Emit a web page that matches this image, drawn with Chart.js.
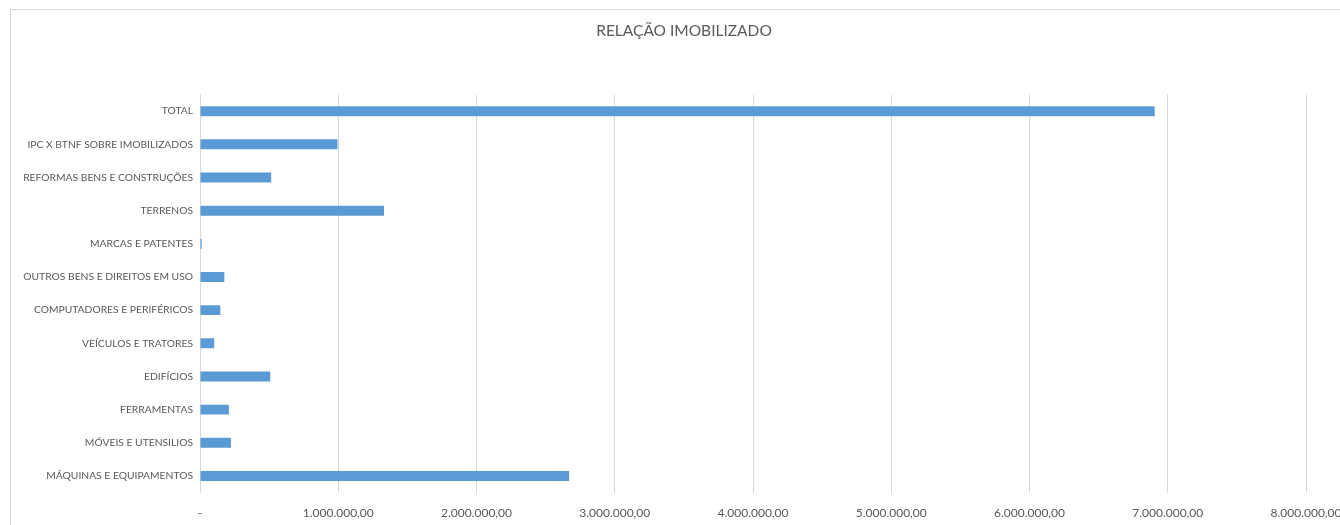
<!DOCTYPE html>
<html>
<head>
<meta charset="utf-8">
<script src="https://cdn.jsdelivr.net/npm/chart.js@4"></script>
<style>
  html, body { margin: 0; padding: 0; background: #ffffff; overflow: hidden; }
  body { width: 1340px; height: 525px; position: relative; }
  #box { position: absolute; left: 10px; top: 9px; width: 1348px; height: 530px;
         border: 1px solid #d9d9d9; box-sizing: border-box; background: #fff; }
  #wrap { position: absolute; left: 0; top: 0; width: 1346px; height: 516px; }
</style>
</head>
<body>
<div id="box"><div id="wrap"><canvas id="c"></canvas></div></div>
<script>
const titleText = 'RELAÇÃO IMOBILIZADO';
const categories = [
  'TOTAL',
  'IPC X BTNF SOBRE IMOBILIZADOS',
  'REFORMAS BENS E CONSTRUÇÕES',
  'TERRENOS',
  'MARCAS E PATENTES',
  'OUTROS BENS E DIREITOS EM USO',
  'COMPUTADORES E PERIFÉRICOS',
  'VEÍCULOS E TRATORES',
  'EDIFÍCIOS',
  'FERRAMENTAS',
  'MÓVEIS E UTENSILIOS',
  'MÁQUINAS E EQUIPAMENTOS'
];
const values = [
  6906000,
  995000,
  515000,
  1331000,
  12000,
  176000,
  147000,
  103000,
  508000,
  209000,
  224000,
  2670000
];
const axisMin = 0;
const axisMax = 8000000;
const axisStep = 1000000;

function fmtBR(v) {
  if (v === 0) return '-';
  const parts = Math.round(v).toString().replace(/\B(?=(\d{3})+(?!\d))/g, '.');
  return parts + ',00';
}

Chart.defaults.font.family = 'Lato, "Open Sans", sans-serif';
Chart.defaults.color = '#595959';

new Chart(document.getElementById('c'), {
  type: 'bar',
  data: {
    labels: categories,
    datasets: [{
      data: values,
      backgroundColor: '#5B9BD5',
      borderWidth: 0,
      barPercentage: 0.3,
      categoryPercentage: 1.0
    }]
  },
  options: {
    indexAxis: 'y',
    responsive: true,
    maintainAspectRatio: false,
    animation: false,
    layout: { padding: 0 },
    plugins: {
      legend: { display: false },
      tooltip: { enabled: false },
      title: {
        display: true,
        text: titleText,
        color: '#595959',
        font: { size: 15.5, weight: 'normal' },
        padding: { top: 12, bottom: 54 }
      }
    },
    scales: {
      x: {
        min: axisMin,
        max: axisMax,
        ticks: {
          stepSize: axisStep,
          color: '#595959',
          font: { size: 12 },
          padding: 13,
          maxRotation: 0,
          callback: (v) => fmtBR(v)
        },
        grid: { color: '#d9d9d9', lineWidth: 1, drawTicks: false },
        border: { display: false },
        afterFit: (s) => { s.height = 33.5; s.paddingLeft = 0; s.paddingRight = 51; }
      },
      y: {
        ticks: { color: '#595959', font: { size: 10.3 }, padding: 7, autoSkip: false },
        grid: { display: false, drawTicks: false },
        border: { display: true, color: '#d9d9d9', width: 1 },
        afterFit: (s) => { s.width = 189; }
      }
    }
  }
});
</script>
</body>
</html>
